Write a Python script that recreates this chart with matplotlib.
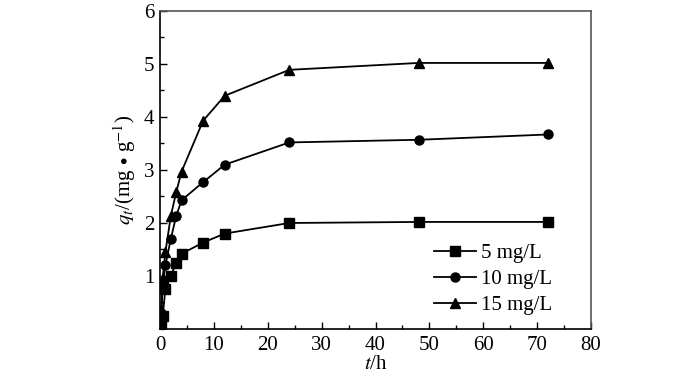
import numpy as np
import matplotlib
matplotlib.use("Agg")
import matplotlib.pyplot as plt
import matplotlib.transforms as mtransforms
from matplotlib.ticker import MultipleLocator

plt.rcParams['font.family'] = ['Liberation Serif', 'DejaVu Serif']
plt.rcParams['mathtext.fontset'] = 'stix'

# contact time (h)
t = [0.25, 0.5, 1, 2, 3, 4, 8, 12, 24, 48, 72]
# adsorbed amount q_t (mg/g)
q_5 = [0.1, 0.25, 0.75, 1.0, 1.25, 1.42, 1.63, 1.8, 2.0, 2.02, 2.02]
q_10 = [0.3, 0.82, 1.2, 1.7, 2.13, 2.43, 2.77, 3.1, 3.52, 3.57, 3.67]
q_15 = [0.35, 0.97, 1.45, 2.13, 2.58, 2.97, 3.93, 4.4, 4.89, 5.02, 5.02]
labels = ['5 mg/L', '10 mg/L', '15 mg/L']
markers = ['s', 'o', '^']

fs = 15

fig = plt.figure(figsize=(7, 3.86), dpi=100)
ax = fig.add_axes([0.2286, 0.1477, 0.6157, 0.8238])

for q, lab, m in zip([q_5, q_10, q_15], labels, markers):
    ax.plot(t, q, color='black', lw=1.3, marker=m, markersize=6.5, label=lab)

ax.set_xlim(0, 80)
ax.set_ylim(0, 6)
ax.xaxis.set_major_locator(MultipleLocator(10))
ax.xaxis.set_minor_locator(MultipleLocator(5))
ax.yaxis.set_major_locator(MultipleLocator(1))
ax.yaxis.set_minor_locator(MultipleLocator(0.5))
ax.set_yticks([1, 2, 3, 4, 5, 6])
ax.tick_params(which='both', direction='in', top=False, right=False,
               labelsize=fs, width=1, color='black')
ax.tick_params(which='major', length=5)
ax.tick_params(axis='x', which='major', pad=5)
ax.tick_params(axis='y', which='major', pad=4)
ax.tick_params(which='minor', length=3)

# shift the "0" label on x a bit left, as in the original
lbl0 = ax.get_xticklabels()[0]
lbl0.set_transform(lbl0.get_transform() + mtransforms.ScaledTranslation(-10/100, 0, fig.dpi_scale_trans))

for s in ['left', 'bottom']:
    ax.spines[s].set_color('black')
    ax.spines[s].set_linewidth(1.2)
for s in ['top', 'right']:
    ax.spines[s].set_color('#555555')
    ax.spines[s].set_linewidth(1.2)

ax.set_xlabel('$t$/h', fontsize=fs, labelpad=0)
ax.set_ylabel('$q_t$/(mg$\\,\\bullet\\,$g$^{-1}$)', fontsize=fs, labelpad=4)

ax.legend(loc='lower right', bbox_to_anchor=(0.953, -0.015), frameon=False,
          fontsize=fs, handlelength=2.0, handletextpad=0.25, labelspacing=0.3)

fig.savefig('out.png', dpi=100)
